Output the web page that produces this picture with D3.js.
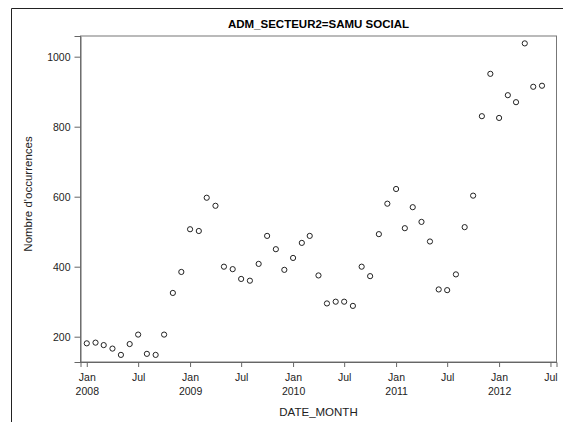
<!DOCTYPE html>
<html>
<head>
<meta charset="utf-8">
<script src="https://cdn.jsdelivr.net/npm/d3@7"></script>
<style>
  html, body { margin: 0; padding: 0; background: #fff; }
  svg { display: block; }
  text { font-family: Arial, "Liberation Sans", sans-serif; }
</style>
</head>
<body>
<svg id="chart" width="563" height="422"></svg>
<script>
const title = "ADM_SECTEUR2=SAMU SOCIAL";
const xLabel = "DATE_MONTH";
const yLabel = "Nombre d'occurrences";

const months = [
  "2008-01","2008-02","2008-03","2008-04","2008-05","2008-06","2008-07","2008-08","2008-09","2008-10","2008-11","2008-12",
  "2009-01","2009-02","2009-03","2009-04","2009-05","2009-06","2009-07","2009-08","2009-09","2009-10","2009-11","2009-12",
  "2010-01","2010-02","2010-03","2010-04","2010-05","2010-06","2010-07","2010-08","2010-09","2010-10","2010-11","2010-12",
  "2011-01","2011-02","2011-03","2011-04","2011-05","2011-06","2011-07","2011-08","2011-09","2011-10","2011-11","2011-12",
  "2012-01","2012-02","2012-03","2012-04","2012-05","2012-06"
];
const counts = [
  181, 183, 176, 166, 148, 179, 206, 151, 148, 206, 325, 385,
  507, 502, 597, 574, 400, 393, 365, 360, 408, 488, 450, 391,
  425, 468, 488, 375, 295, 300, 300, 288, 400, 373, 493, 580,
  622, 510, 570, 528, 472, 335, 333, 378, 513, 603, 830, 951,
  825, 890, 870, 1038, 914, 917
];
const yTicks = [200, 400, 600, 800, 1000];
const xTicks = ["2008-01","2008-07","2009-01","2009-07","2010-01","2010-07","2011-01","2011-07","2012-01","2012-07"];
const xTickMonth = ["Jan","Jul","Jan","Jul","Jan","Jul","Jan","Jul","Jan","Jul"];
const xTickYear = ["2008","","2009","","2010","","2011","","2012",""];

const parse = d3.utcParse("%Y-%m");
const data = months.map((m, i) => ({ date: parse(m), value: counts[i] }));

const svg = d3.select("#chart");
const L = 80.5, R = 556.5, T = 36, B = 362;

const x = d3.scaleUtc()
  .domain([new Date(Date.UTC(2007, 11, 9, 18)), new Date(Date.UTC(2012, 6, 22, 10))])
  .range([L, R]);
const y = d3.scaleLinear().domain([127.7, 1059.1]).range([B, T]);

// outer frame (partially visible)
svg.append("line").attr("x1", 11.5).attr("x2", 11.5).attr("y1", 8.5).attr("y2", 422)
  .attr("stroke", "#222").attr("stroke-width", 1);
svg.append("line").attr("x1", 11.5).attr("x2", 563).attr("y1", 8.5).attr("y2", 8.5)
  .attr("stroke", "#222").attr("stroke-width", 1);

// title
svg.append("text").attr("x", (L + R) / 2).attr("y", 28)
  .attr("text-anchor", "middle").attr("font-size", 11.5).attr("font-weight", "bold")
  .attr("fill", "#000").text(title);

// plot frame
svg.append("rect").attr("x", L).attr("y", T).attr("width", R - L).attr("height", B - T)
  .attr("fill", "none").attr("stroke", "#777").attr("stroke-width", 1);

// y axis
const yAxis = d3.axisLeft(y).tickValues(yTicks).tickSize(6).tickPadding(4).tickFormat(d3.format("d"));
const gy = svg.append("g").attr("transform", `translate(${L},0)`).call(yAxis);
gy.select(".domain").attr("stroke", "#666");
gy.selectAll(".tick line").attr("stroke", "#666");
gy.selectAll(".tick text").attr("font-size", 10.5).attr("fill", "#222")
  .attr("font-family", "Arial, 'Liberation Sans', sans-serif");

// x axis
const xAxis = d3.axisBottom(x).tickValues(xTicks.map(parse)).tickSize(5).tickFormat("");
const gx = svg.append("g").attr("transform", `translate(0,${B})`).call(xAxis);
gx.select(".domain").attr("stroke", "#666");
gx.selectAll(".tick line").attr("stroke", "#666");
gx.selectAll(".tick").each(function (d, i) {
  const g = d3.select(this);
  g.append("text").attr("y", 19).attr("text-anchor", "middle").attr("font-size", 10.5)
    .attr("fill", "#222").attr("font-family", "Arial, 'Liberation Sans', sans-serif")
    .text(xTickMonth[i]);
  if (xTickYear[i]) {
    g.append("text").attr("y", 33).attr("text-anchor", "middle").attr("font-size", 10.5)
      .attr("fill", "#222").attr("font-family", "Arial, 'Liberation Sans', sans-serif")
      .text(xTickYear[i]);
  }
});

// axis labels
svg.append("text").attr("x", (L + R) / 2).attr("y", 415.5).attr("text-anchor", "middle")
  .attr("font-size", 11.5).attr("fill", "#222").text(xLabel);
svg.append("text").attr("transform", `translate(32,${(T + B) / 2 - 5}) rotate(-90)`)
  .attr("text-anchor", "middle").attr("font-size", 11.5).attr("fill", "#222").text(yLabel);

// points
svg.append("g").selectAll("circle").data(data).join("circle")
  .attr("cx", d => x(d.date)).attr("cy", d => y(d.value)).attr("r", 2.6)
  .attr("fill", "none").attr("stroke", "#222").attr("stroke-width", 1);
</script>
</body>
</html>
